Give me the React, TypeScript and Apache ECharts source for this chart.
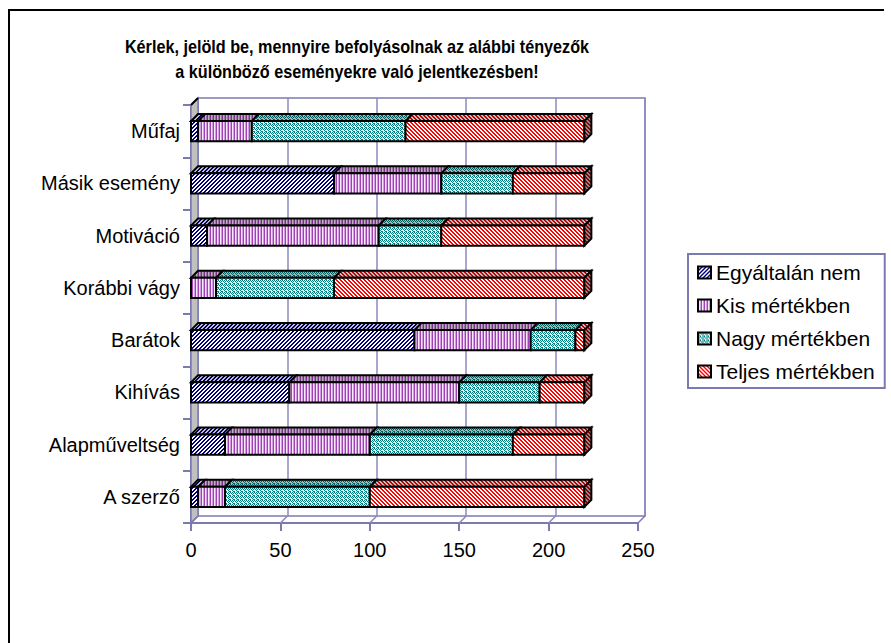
import React, { useEffect, useRef } from 'react';
import * as echarts from 'echarts';

const categories = ['Műfaj', 'Másik esemény', 'Motiváció', 'Korábbi vágy', 'Barátok', 'Kihívás', 'Alapműveltség', 'A szerző'];
const seriesNames = ['Egyáltalán nem', 'Kis mértékben', 'Nagy mértékben', 'Teljes mértékben'];
const egyaltalanNem = [4, 80, 9, 0, 125, 55, 19, 4];
const kisMertekben = [30, 60, 96, 14, 65, 95, 81, 15];
const nagyMertekben = [86, 40, 35, 66, 25, 45, 80, 81];
const teljesMertekben = [100, 40, 80, 140, 5, 25, 40, 120];
const xTicks = [0, 50, 100, 150, 200, 250];
const titleLines = [
  'Kérlek, jelöld be, mennyire befolyásolnak az alábbi tényezők',
  'a különböző eseményekre való jelentkezésben!',
];

const FONT = '"Liberation Sans", Arial, sans-serif';
const AXIS = '#7b7bb0';
const GRIDC = '#8a8abf';
const DEPTH = 7;

type Pix = (x: number, y: number) => string;

function makeCanvas(w: number, h: number, pix: Pix, shade: number) {
  const c = document.createElement('canvas');
  c.width = w;
  c.height = h;
  const ctx = c.getContext('2d')!;
  for (let y = 0; y < h; y++) {
    for (let x = 0; x < w; x++) {
      ctx.fillStyle = pix(x, y);
      ctx.fillRect(x, y, 1, 1);
    }
  }
  if (shade > 0) {
    ctx.fillStyle = `rgba(0,0,0,${shade})`;
    ctx.fillRect(0, 0, w, h);
  }
  return c;
}

const tealMap = [
  '1010',
  '0101',
  '1000',
  '0110',
];

function makePatterns() {
  const defs: { w: number; h: number; pix: Pix }[] = [
    {
      w: 4, h: 4,
      pix: (x, y) => ((x + y) % 4 === 3 || (x + y) % 4 === 0 ? '#000080' : '#ffffff'),
    },
    {
      w: 3, h: 1,
      pix: (x) => (x === 0 ? '#a040b4' : x === 1 ? '#f6eaf8' : '#d29ee0'),
    },
    {
      w: 4, h: 4,
      pix: (x, y) => (tealMap[y][x] === '1' ? '#008080' : '#e4f4f4'),
    },
    {
      w: 4, h: 4,
      pix: (x, y) => ((((x - y) % 4) + 4) % 4 === 0 || (((x - y) % 4) + 4) % 4 === 1 ? '#ff0000' : '#ffffff'),
    },
  ];
  return defs.map((d) => ({
    front: { image: makeCanvas(d.w, d.h, d.pix, 0), repeat: 'repeat' },
    top: { image: makeCanvas(d.w, d.h, d.pix, 0.25), repeat: 'repeat' },
    side: { image: makeCanvas(d.w, d.h, d.pix, 0.45), repeat: 'repeat' },
  }));
}

export default function App() {
  const ref = useRef<HTMLDivElement>(null);
  useEffect(() => {
    document.body.style.margin = '0';
    if (!ref.current) return;
    const chart = echarts.init(ref.current, undefined, { renderer: 'svg' });
    const pats = makePatterns();
    const all = [egyaltalanNem, kisMertekben, nagyMertekben, teljesMertekben];

    const lastIdx = categories.map((_, c) => {
      let l = -1;
      all.forEach((arr, k) => { if (arr[c] > 0) l = k; });
      return l;
    });

    const barSeries = all.map((arr, k) => {
      const data = arr.map((v, c) => {
        let s = 0;
        for (let j = 0; j < k; j++) s += all[j][c];
        return [s, s + v, c, lastIdx[c] === k ? 1 : 0];
      });
      return {
        type: 'custom',
        name: seriesNames[k],
        xAxisIndex: 0,
        yAxisIndex: 0,
        itemStyle: { color: pats[k].front, borderColor: '#000', borderWidth: 2 },
        encode: { x: [0, 1], y: 2 },
        data,
        z: 5,
        renderItem: (params: any, api: any) => {
          const s = api.value(0), e = api.value(1), c = api.value(2), last = api.value(3);
          if (e - s <= 0) return null;
          const a = api.coord([s, c]);
          const b = api.coord([e, c]);
          const h = api.size([0, 1])[1] * 0.383;
          const y0 = a[1] - h / 2;
          const y1 = a[1] + h / 2;
          const d = DEPTH;
          const st = { stroke: '#000', lineWidth: 2, lineJoin: 'miter' };
          const children: any[] = [
            {
              type: 'polygon',
              shape: { points: [[a[0], y0], [a[0] + d, y0 - d], [b[0] + d, y0 - d], [b[0], y0]] },
              style: { ...st, fill: pats[k].top },
            },
            {
              type: 'rect',
              shape: { x: a[0], y: y0, width: b[0] - a[0], height: h },
              style: { ...st, fill: pats[k].front },
            },
          ];
          if (last) {
            children.push({
              type: 'polygon',
              shape: { points: [[b[0], y0], [b[0] + d, y0 - d], [b[0] + d, y1 - d], [b[0], y1]] },
              style: { ...st, fill: pats[k].side },
            });
          }
          return { type: 'group', children };
        },
      };
    });

    const wallSeries = {
      type: 'custom',
      name: 'walls',
      xAxisIndex: 0,
      yAxisIndex: 0,
      silent: true,
      z: 1,
      data: xTicks.map((v) => [v, 0]),
      encode: { x: 0, y: 1 },
      renderItem: (params: any, api: any) => {
        const cs = params.coordSys;
        const v = api.value(0);
        const x = api.coord([v, 0])[0];
        const yb = cs.y + cs.height;
        const d = DEPTH;
        const children: any[] = [];
        if (v === xTicks[0]) {
          children.push({
            type: 'polygon',
            shape: { points: [[cs.x, cs.y], [cs.x + d, cs.y - d], [cs.x + d, yb - d], [cs.x, yb]] },
            style: { fill: '#c0c0c0', stroke: AXIS, lineWidth: 1.5 },
          });
          children.push({
            type: 'line',
            shape: { x1: cs.x, y1: cs.y, x2: cs.x + d, y2: cs.y - d },
            style: { stroke: '#000', lineWidth: 2 },
          });
        }
        children.push({
          type: 'line',
          shape: { x1: x, y1: yb, x2: x + d, y2: yb - d },
          style: { stroke: v === xTicks[0] || v === xTicks[xTicks.length - 1] ? AXIS : GRIDC, lineWidth: 1.5 },
        });
        return { type: 'group', children };
      },
    };

    const g0 = { left: 191, top: 105, right: 253, bottom: 120 };
    const g1 = { left: g0.left + DEPTH, top: g0.top - DEPTH, right: g0.right - DEPTH, bottom: g0.bottom + DEPTH };

    chart.setOption({
      animation: false,
      backgroundColor: '#ffffff',
      textStyle: { fontFamily: FONT },
      grid: [
        { ...g0, containLabel: false },
        { ...g1, containLabel: false, show: true, backgroundColor: '#ffffff', borderColor: AXIS, borderWidth: 1.5 },
      ],
      xAxis: [
        {
          type: 'value', gridIndex: 0, min: 0, max: 250, interval: 50,
          axisLine: { show: true, lineStyle: { color: AXIS, width: 2 } },
          axisTick: { show: true, length: 8, lineStyle: { color: AXIS, width: 2 } },
          axisLabel: { color: '#000', fontSize: 20, fontFamily: FONT, margin: 17 },
          splitLine: { show: false },
        },
        {
          type: 'value', gridIndex: 1, min: 0, max: 250, interval: 50,
          axisLine: { show: false }, axisTick: { show: false }, axisLabel: { show: false },
          splitLine: { show: true, lineStyle: { color: GRIDC, width: 1.5 } },
        },
      ],
      yAxis: [
        {
          type: 'category', gridIndex: 0, data: categories, inverse: true,
          axisLine: { show: true, lineStyle: { color: AXIS, width: 2 } },
          axisTick: { show: true, length: 8, lineStyle: { color: AXIS, width: 2 } },
          axisLabel: { color: '#000', fontSize: 20, fontFamily: FONT, margin: 11 },
          splitLine: { show: false },
        },
        {
          type: 'category', gridIndex: 1, data: categories, inverse: true,
          axisLine: { show: false }, axisTick: { show: false }, axisLabel: { show: false }, splitLine: { show: false },
        },
      ],
      legend: {
        orient: 'vertical', left: 688, top: 254, padding: [8, 10, 6, 9],
        itemWidth: 13, itemHeight: 12, itemGap: 12,
        backgroundColor: '#ffffff', borderColor: AXIS, borderWidth: 2,
        icon: 'rect',
        data: seriesNames,
        textStyle: { fontSize: 21, lineHeight: 21, color: '#000', fontFamily: FONT },
        itemStyle: { borderColor: '#000', borderWidth: 2 },
      },
      graphic: [
        { type: 'line', shape: { x1: 9, y1: 10, x2: 9, y2: 643 }, style: { stroke: '#000', lineWidth: 2 } },
        { type: 'line', shape: { x1: 8, y1: 10, x2: 884, y2: 10 }, style: { stroke: '#000', lineWidth: 2 } },
        {
          type: 'text', x: 357, y: 47, scaleX: 0.9,
          style: { text: titleLines[0], textAlign: 'center', textVerticalAlign: 'middle', font: `bold 18px ${FONT}`, fill: '#000' },
        },
        {
          type: 'text', x: 357, y: 72, scaleX: 0.9,
          style: { text: titleLines[1], textAlign: 'center', textVerticalAlign: 'middle', font: `bold 18px ${FONT}`, fill: '#000' },
        },
      ],
      series: [wallSeries, ...barSeries],
    });
    return () => chart.dispose();
  }, []);
  return <div ref={ref} style={{ width: 891, height: 643 }} />;
}
